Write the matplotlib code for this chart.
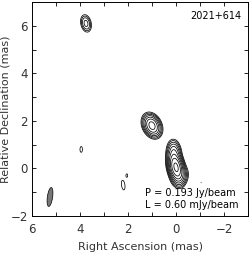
import numpy as np
import matplotlib
matplotlib.use("Agg")
import matplotlib.pyplot as plt
from matplotlib.patches import Ellipse

# components: ra, dec (mas), peak (mJy/beam), sigma major, sigma minor (mas), pa (deg)
comp_ra = [0.0, 0.08, -0.15, 1.0, 3.75, 3.95, 2.2, 2.05, -1.05]
comp_dec = [0.05, 0.65, -0.3, 1.8, 6.1, 0.8, -0.7, -0.3, -0.6]
comp_peak = [193.0, 20.0, 10.0, 55.0, 6.5, 1.0, 1.0, 0.9, 0.65]
comp_smaj = [0.26, 0.22, 0.2, 0.2, 0.17, 0.12, 0.2, 0.08, 0.02]
comp_smin = [0.12, 0.12, 0.15, 0.14, 0.1, 0.05, 0.07, 0.04, 0.02]
comp_pa = [12, 5, -10, 25, 12, 0, 8, 0, 0]

peak = 193.0  # mJy/beam
lowest = 0.60  # mJy/beam
levels = lowest * 2.0 ** np.arange(0, 9)

beam_ra, beam_dec = 5.25, -1.2
beam_maj, beam_min, beam_pa = 0.8, 0.22, 8

label_src = "2021+614"

ra = np.linspace(6, -3, 700)
dec = np.linspace(-2, 7, 700)
X, Y = np.meshgrid(ra, dec)
Z = np.zeros_like(X)
for x0, y0, a, sj, sn, pa in zip(comp_ra, comp_dec, comp_peak, comp_smaj, comp_smin, comp_pa):
    t = np.deg2rad(pa)
    dx = X - x0
    dy = Y - y0
    u = dx * np.cos(t) - dy * np.sin(t)
    v = dx * np.sin(t) + dy * np.cos(t)
    Z += a * np.exp(-0.5 * ((u / sn) ** 2 + (v / sj) ** 2))

fig = plt.figure(figsize=(2.49, 2.54), dpi=100)
ax = fig.add_axes([0.1285, 0.1496, 0.8675, 0.8425])
ax.contour(X, Y, Z, levels=levels, colors='black', linewidths=0.55)
ax.add_patch(Ellipse((beam_ra, beam_dec), beam_min, beam_maj, angle=beam_pa,
                     facecolor='#777777', edgecolor='black', linewidth=0.5))
ax.set_xlim(6, -3)
ax.set_ylim(-2, 7)
ax.set_xticks([6, 4, 2, 0, -2])
ax.set_yticks([-2, 0, 2, 4, 6])
ax.set_xticks(np.arange(-3, 7), minor=True)
ax.set_yticks(np.arange(-2, 8), minor=True)
ax.tick_params(which='both', direction='in', top=True, right=True, labelsize=8.5,
               width=0.6, colors='black', labelcolor='#333333')
ax.tick_params(axis='x', pad=5)
ax.tick_params(axis='y', pad=3)
ax.tick_params(which='major', length=3)
ax.tick_params(which='minor', length=3)
for s in ax.spines.values():
    s.set_linewidth(0.7)
ax.set_xlabel('Right Ascension (mas)', fontsize=8, color='#333333', labelpad=4)
ax.set_ylabel('Relative Declination (mas)', fontsize=8, color='#333333', labelpad=0)
ax.text(0.97, 0.935, label_src, transform=ax.transAxes, ha='right', va='center', fontsize=7)
ax.text(0.523, 0.107, 'P = %.3f Jy/beam' % (peak / 1000), transform=ax.transAxes,
        ha='left', va='center', fontsize=7)
ax.text(0.523, 0.051, 'L = %.2f mJy/beam' % lowest, transform=ax.transAxes,
        ha='left', va='center', fontsize=7)
fig.savefig('out.png', dpi=100)
